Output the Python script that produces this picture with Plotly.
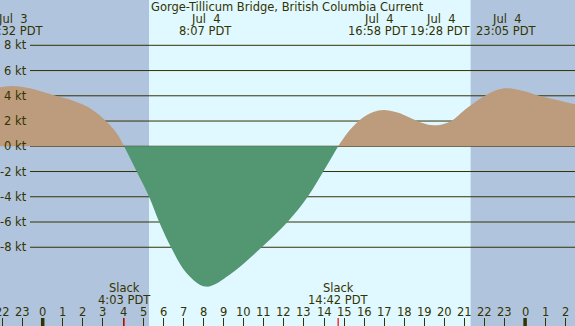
import plotly.graph_objects as go

W, H = 575, 326

# ---- data (hours relative to Jul 4 00:00 PDT, speed in knots) ----
times = [-2.124, -1.463, -0.632, 0.527, 1.522, 2.353, 3.184, 3.682, 4.05,
         4.677, 5.303, 5.801, 6.383, 7.164, 8.117, 9.318, 10.896,
         12.169, 13.164, 13.96, 14.70,
         15.29, 15.871, 16.448, 16.967, 17.612, 18.274, 18.935, 19.467,
         20.264, 21.095, 21.92, 22.587, 23.083, 23.91, 24.741, 25.572, 26.483]
speeds = [4.67, 4.78, 4.60, 4.06, 3.61, 3.01, 1.95, 1.03, 0.0,
          -2.0, -4.04, -6.02, -8.0, -10.06, -11.12, -10.15, -8.0,
          -6.02, -4.04, -2.0, 0.0,
          1.3, 2.2, 2.72, 2.88, 2.69, 2.27, 1.82, 1.66,
          1.95, 3.01, 3.93, 4.46, 4.60, 4.38, 3.99, 3.67, 3.33]

event_times = [-1.467, 8.117, 16.967, 19.467, 23.083]
event_days = ["Jul\u00a0\u00a03", "Jul\u00a0\u00a04", "Jul\u00a0\u00a04", "Jul\u00a0\u00a04", "Jul\u00a0\u00a04"]
event_labels = ["22:32 PDT", "8:07 PDT", "16:58 PDT", "19:28 PDT", "23:05 PDT"]
event_shift = [0, 0, -5, 7, 0]

slack_times = [4.05, 14.70]
slack_labels = ["4:03 PDT", "14:42 PDT"]

hour_ticks = list(range(-2, 27))
hour_labels = [str(h % 24) for h in hour_ticks]
midnights = [0, 24]

kt_ticks = [8, 6, 4, 2, 0, -2, -4, -6, -8]
kt_labels = [f"{v} kt" for v in kt_ticks]

sunrise, sunset = 5.29, 21.29
x_range = [-2.124, 26.483]
y_range = [-14.24, 11.59]

title = "Gorge-Tillicum Bridge, British Columbia Current"

NIGHT = "#B0C4DE"
DAY = "#E0F8FF"
FLOOD = "#BC9C7C"
EBB = "#529672"
INK = "#333300"
FONT = "DejaVu Sans"
FS = 11.5

# split into flood / ebb segments at slack points
i1 = speeds.index(0.0)
i2 = len(speeds) - 1 - speeds[::-1].index(0.0)

fig = go.Figure()
segs = [(0, i1 + 1, FLOOD), (i1, i2 + 1, EBB), (i2, len(times), FLOOD)]
for a, b, col in segs:
    fig.add_trace(go.Scatter(
        x=times[a:b], y=speeds[a:b], mode="lines",
        line=dict(width=0, shape="spline", color=col),
        fill="tozeroy", fillcolor=col, hoverinfo="skip", showlegend=False))

shapes = []
# daylight band
shapes.append(dict(type="rect", xref="x", yref="paper", x0=sunrise, x1=sunset,
                   y0=0, y1=1, fillcolor=DAY, line=dict(width=0), layer="below"))
# horizontal grid lines
for v in kt_ticks:
    shapes.append(dict(type="line", xref="paper", yref="y", x0=30 / W, x1=1,
                       y0=v, y1=v, line=dict(color=INK, width=1), layer="below"))
# midnight thick ticks
for m in midnights:
    shapes.append(dict(type="line", xref="x", yref="paper", x0=m, x1=m,
                       y0=0, y1=8 / H, line=dict(color=INK, width=3.5)))
# slack red ticks
for s in slack_times:
    shapes.append(dict(type="line", xref="x", yref="paper", x0=s, x1=s,
                       y0=0, y1=8 / H, line=dict(color="#FF0000", width=1.2)))

ann = []
def py(px):
    return 1 - px / H

font = dict(family=FONT, size=FS, color=INK)
ann.append(dict(text=title, xref="paper", yref="paper", x=0.5, y=py(7),
                xanchor="center", yanchor="middle", showarrow=False, font=font))
for t, d, l, sh in zip(event_times, event_days, event_labels, event_shift):
    ann.append(dict(text=d, xref="x", yref="paper", x=t, y=py(19.5), xshift=sh,
                    xanchor="center", yanchor="middle", showarrow=False, font=font))
    ann.append(dict(text=l, xref="x", yref="paper", x=t, y=py(31), xshift=sh,
                    xanchor="center", yanchor="middle", showarrow=False, font=font))
for t, l in zip(slack_times, slack_labels):
    ann.append(dict(text="Slack", xref="x", yref="paper", x=t, y=py(288),
                    xanchor="center", yanchor="middle", showarrow=False, font=font))
    ann.append(dict(text=l, xref="x", yref="paper", x=t, y=py(299.5),
                    xanchor="center", yanchor="middle", showarrow=False, font=font))
for h, l in zip(hour_ticks, hour_labels):
    ann.append(dict(text=l, xref="x", yref="paper", x=h, y=py(311.5),
                    xanchor="center", yanchor="middle", showarrow=False, font=font))
for v, l in zip(kt_ticks, kt_labels):
    ann.append(dict(text=l, xref="paper", yref="y", x=28.5 / W, y=v,
                    xanchor="right", yanchor="middle", showarrow=False, font=font))

fig.update_layout(
    width=W, height=H,
    margin=dict(l=0, r=0, t=0, b=0),
    paper_bgcolor=NIGHT, plot_bgcolor=NIGHT,
    shapes=shapes, annotations=ann,
    xaxis=dict(range=x_range, tickvals=hour_ticks, showticklabels=False,
               ticks="inside", ticklen=8, tickwidth=1, tickcolor=INK,
               showgrid=False, zeroline=False, showline=False, fixedrange=True),
    yaxis=dict(range=y_range, visible=False, showgrid=False, zeroline=False,
               fixedrange=True),
    font=font,
)

fig.write_html("out.html", config={"displayModeBar": False},
               post_script="document.body.style.margin='0';document.body.style.overflow='hidden';")
